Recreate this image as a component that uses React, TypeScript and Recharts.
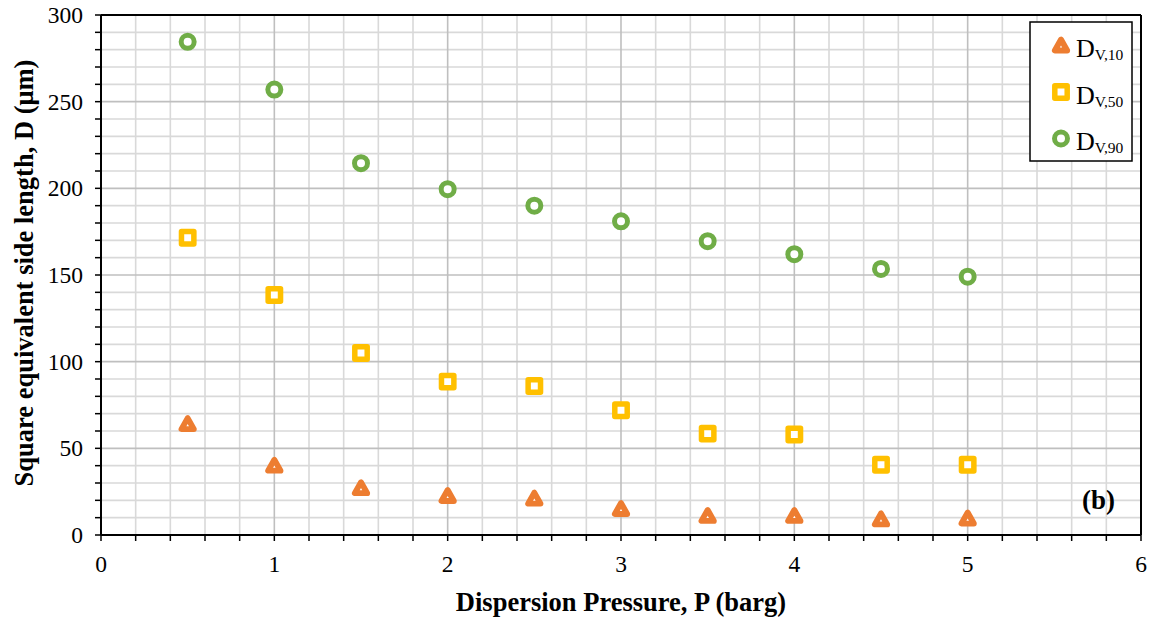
import React from 'react';
import { ScatterChart, Scatter, XAxis, YAxis, CartesianGrid, ReferenceLine } from 'recharts';

const pressure = [0.5, 1, 1.5, 2, 2.5, 3, 3.5, 4, 4.5, 5];
const dv10 = [64, 40, 27, 22.5, 21, 15, 11, 11, 9, 9.5];
const dv50 = [171.5, 138.5, 105, 88.5, 86, 72, 58.5, 58, 40.5, 40.5];
const dv90 = [284.5, 257, 214.5, 199.5, 190, 181, 169.5, 162, 153.5, 149];

const xMajorTicks = [0, 1, 2, 3, 4, 5, 6];
const yMajorTicks = [0, 50, 100, 150, 200, 250, 300];
const xAllTicks = Array.from({ length: 31 }, (_, i) => Math.round(i * 2) / 10);
const yAllTicks = Array.from({ length: 31 }, (_, i) => i * 10);
const xMinorGrid = xAllTicks.filter((v) => !xMajorTicks.includes(v));
const yMinorGrid = yAllTicks.filter((v) => !yMajorTicks.includes(v));
const xMajorGrid = [1, 2, 3, 4, 5];
const yMajorGrid = [50, 100, 150, 200, 250];

const legendItems = [
  { sub: 'V,10', kind: 'tri' },
  { sub: 'V,50', kind: 'sq' },
  { sub: 'V,90', kind: 'circ' },
];

const ORANGE = '#ED7D31';
const YELLOW = '#FFC000';
const GREEN = '#70AD47';
const FONT = '"Liberation Serif", "Times New Roman", serif';

const toPoints = (ys: number[]) => pressure.map((x, i) => ({ x, y: ys[i] }));
const d10 = toPoints(dv10);
const d50 = toPoints(dv50);
const d90 = toPoints(dv90);

const Tri = ({ cx, cy }: any) => (
  <path
    d={`M${cx},${cy - 6} L${cx - 6.2},${cy + 5} L${cx + 6.2},${cy + 5} Z`}
    fill="#fff"
    stroke={ORANGE}
    strokeWidth={5.8}
    strokeLinejoin="round"
  />
);
const Sq = ({ cx, cy }: any) => (
  <rect x={cx - 6.2} y={cy - 6.2} width={12.4} height={12.4} fill="#fff" stroke={YELLOW} strokeWidth={5.5} strokeLinejoin="round" />
);
const Circ = ({ cx, cy }: any) => (
  <circle cx={cx} cy={cy} r={6.5} fill="#fff" stroke={GREEN} strokeWidth={5} />
);

const XTick = ({ x, y, payload }: any) => {
  const v = payload.value;
  if (Math.abs(v - Math.round(v)) > 1e-6) return null;
  return (
    <text x={x} y={y + 29} textAnchor="middle" fontFamily={FONT} fontSize={23.5} fill="#000">
      {Math.round(v)}
    </text>
  );
};
const YTick = ({ x, y, payload }: any) => {
  const v = payload.value;
  if (v % 50 !== 0) return null;
  return (
    <text x={x - 10} y={y + 8} textAnchor="end" fontFamily={FONT} fontSize={23.5} fill="#000">
      {v}
    </text>
  );
};

const Overlay = () => (
  <svg width={1155} height={621} style={{ position: 'absolute', left: 0, top: 0, pointerEvents: 'none' }}>
    <text x={621} y={611} textAnchor="middle" fontFamily={FONT} fontSize={26.5} fontWeight="bold" fill="#000">
      Dispersion Pressure, P (barg)
    </text>
    <text
      transform="translate(33,273) rotate(-90)"
      textAnchor="middle"
      fontFamily={FONT}
      fontSize={26.5}
      fontWeight="bold"
      fill="#000"
    >
      Square equivalent side length, D (μm)
    </text>
    <text x={1082} y={509} fontFamily={FONT} fontSize={27} fontWeight="bold" fill="#000">
      (b)
    </text>
    <g transform="translate(1029,21)">
      <rect x={1} y={1} width={102} height={139} fill="#fff" stroke="#000" strokeWidth={1.5} />
      {legendItems.map((e, i) => {
        const cy = 24.5 + i * 46.5;
        return (
          <g key={e.sub}>
            {e.kind === 'tri' && <Tri cx={32} cy={cy} />}
            {e.kind === 'sq' && <Sq cx={32} cy={cy} />}
            {e.kind === 'circ' && <Circ cx={32} cy={cy} />}
            <text x={47} y={36 + i * 46.5} fontFamily={FONT} fontSize={26} fill="#000">
              D
              <tspan fontSize={15.5} dy={3}>{e.sub}</tspan>
            </text>
          </g>
        );
      })}
    </g>
  </svg>
);

export default function App() {
  return (
    <div style={{ position: 'absolute', left: 0, top: 0, width: 1155, height: 621, background: '#fff' }}>
      <ScatterChart width={1155} height={621} margin={{ top: 15, right: 14, bottom: 46, left: 41 }}>
        <CartesianGrid
          verticalValues={xMinorGrid}
          horizontalValues={yMinorGrid}
          stroke="#D9D9D9"
          strokeWidth={1.6}
        />
        <CartesianGrid
          verticalValues={xMajorGrid}
          horizontalValues={yMajorGrid}
          stroke="#BFBFBF"
          strokeWidth={1.6}
        />
        <XAxis
          type="number"
          dataKey="x"
          domain={[0, 6]}
          ticks={xAllTicks}
          interval={0}
          tick={<XTick />}
          tickSize={6}
          height={40}
          axisLine={{ stroke: '#000', strokeWidth: 2 }}
          tickLine={{ stroke: '#000', strokeWidth: 1.5 }}
          allowDataOverflow
        />
        <YAxis
          type="number"
          dataKey="y"
          domain={[0, 300]}
          ticks={yAllTicks}
          interval={0}
          tick={<YTick />}
          tickSize={6}
          width={60}
          axisLine={{ stroke: '#000', strokeWidth: 2 }}
          tickLine={{ stroke: '#000', strokeWidth: 1.5 }}
          allowDataOverflow
        />
        <ReferenceLine y={300} stroke="#000" strokeWidth={2} />
        <ReferenceLine x={6} stroke="#000" strokeWidth={2} />
        <Scatter data={d10} shape={(p: any) => <Tri cx={p.cx} cy={p.cy} />} isAnimationActive={false} />
        <Scatter data={d50} shape={(p: any) => <Sq cx={p.cx} cy={p.cy} />} isAnimationActive={false} />
        <Scatter data={d90} shape={(p: any) => <Circ cx={p.cx} cy={p.cy} />} isAnimationActive={false} />
      </ScatterChart>
      <Overlay />
    </div>
  );
}
